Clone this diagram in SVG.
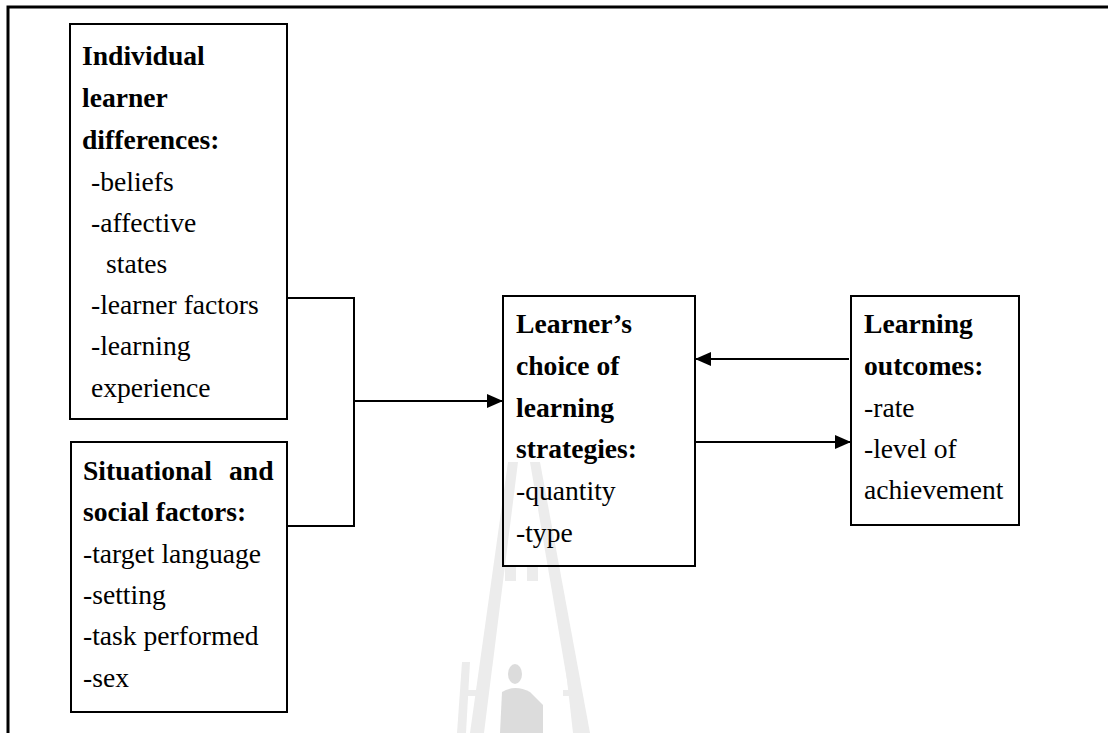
<svg xmlns="http://www.w3.org/2000/svg" width="1108" height="733" viewBox="0 0 1108 733">
<style>
.box{fill:none;stroke:#000;stroke-width:2}
.t{font-family:"Liberation Serif","Times New Roman",serif;font-size:27.6px;fill:#000}
.b{font-weight:bold}
.c{fill:none;stroke:#000;stroke-width:2}
.wm{fill:#ececec}
</style>
<defs>
<marker id="ah" markerWidth="16" markerHeight="14" refX="15" refY="7" orient="auto" markerUnits="userSpaceOnUse">
<path d="M0,0 L16,7 L0,14 Z" fill="#000"/>
</marker>
</defs>
<rect width="1108" height="733" fill="#fff"/>
<g id="watermark">
<polygon class="wm" points="508,462 518,462 484,733 470,733"/>
<polygon class="wm" points="530,462 540,462 590,733 576,733"/>
<rect class="wm" x="505" y="565" width="11" height="16"/>
<rect class="wm" x="527" y="565" width="11" height="16"/>
<polygon class="wm" points="462,662 470,662 466,733 457,733"/>
<rect class="wm" x="463" y="690" width="14" height="6"/>
<polygon class="wm" points="565,662 573,662 582,733 573,733"/>
<rect class="wm" x="563" y="690" width="14" height="6"/>
<ellipse cx="515" cy="674" rx="7" ry="10" fill="#dcdcdc"/>
<path d="M502,692 Q515,684 530,692 L543,705 L543,733 L500,733 Z" fill="#dcdcdc"/>
</g>
<path d="M8,733 V7 H1108" fill="none" stroke="#000" stroke-width="3"/>
<g id="connectors">
<path class="c" d="M287,298 H354 V526 H287"/>
<path class="c" d="M354,401 H502" marker-end="url(#ah)"/>
<path class="c" d="M849,359 H696" marker-end="url(#ah)"/>
<path class="c" d="M695,442 H850" marker-end="url(#ah)"/>
</g>
<g id="individual">
<rect class="box" x="70" y="24" width="217" height="395"/>
<text class="t b" x="82" y="65">Individual</text>
<text class="t b" x="82" y="107">learner</text>
<text class="t b" x="82" y="149">differences:</text>
<text class="t" x="91" y="191">-beliefs</text>
<text class="t" x="91" y="232">-affective</text>
<text class="t" x="106" y="273">states</text>
<text class="t" x="91" y="314">-learner factors</text>
<text class="t" x="91" y="355">-learning</text>
<text class="t" x="91" y="397">experience</text>
</g>
<g id="situational">
<rect class="box" x="71" y="442" width="216" height="270"/>
<text class="t b" x="83" y="480">Situational</text>
<text class="t b" x="229" y="480">and</text>
<text class="t b" x="83" y="521">social factors:</text>
<text class="t" x="83" y="563">-target language</text>
<text class="t" x="83" y="604">-setting</text>
<text class="t" x="83" y="645">-task performed</text>
<text class="t" x="83" y="687">-sex</text>
</g>
<g id="choice">
<rect class="box" x="503" y="296" width="192" height="270"/>
<text class="t b" x="516" y="333">Learner’s</text>
<text class="t b" x="516" y="375">choice of</text>
<text class="t b" x="516" y="417">learning</text>
<text class="t b" x="516" y="458">strategies:</text>
<text class="t" x="516" y="500">-quantity</text>
<text class="t" x="516" y="542">-type</text>
</g>
<g id="outcomes">
<rect class="box" x="851" y="296" width="168" height="229"/>
<text class="t b" x="864" y="333">Learning</text>
<text class="t b" x="864" y="375">outcomes:</text>
<text class="t" x="864" y="417">-rate</text>
<text class="t" x="864" y="458">-level of</text>
<text class="t" x="864" y="499">achievement</text>
</g>
</svg>
